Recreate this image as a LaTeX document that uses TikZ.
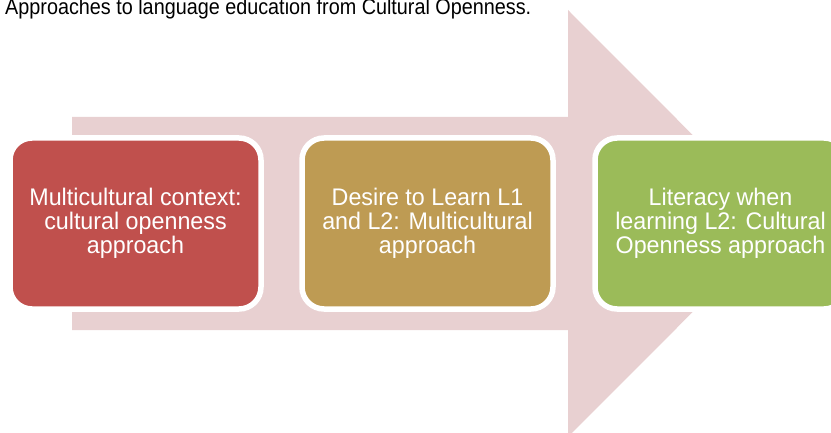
\documentclass[tikz,border=0pt]{standalone}
\usepackage{fontspec}
\setmainfont{Liberation Sans}
\newfontfamily\titlefont[FakeStretch=0.9]{Liberation Sans}
\newfontfamily\boxfont[FakeStretch=0.97]{Liberation Sans}
\usetikzlibrary{positioning}

\definecolor{arrowpink}{HTML}{E8D0D1}
\definecolor{redbox}{HTML}{C0504D}
\definecolor{goldbox}{HTML}{BE9B53}
\definecolor{greenbox}{HTML}{9BBB59}

\tikzset{
    stagebox/.style={
        draw=white, line width=5.5pt, rounded corners=22pt,
        minimum width=251pt, minimum height=171pt, outer sep=0pt,
        text=white, align=center, inner sep=0pt,
        font=\boxfont\fontsize{24}{24}\selectfont
    }
}

\begin{document}
\begin{tikzpicture}[x=1pt, y=1pt]
\useasboundingbox (0,0) rectangle (831,432);
\clip (0,0) rectangle (831,432);

% title line, partly cut at the top
\node[anchor=base west, inner sep=0pt, font=\titlefont\fontsize{22}{24}\selectfont]
    (title) at (5,417) {Approaches to language education from Cultural Openness.};

% the big arrow behind the boxes
\fill[arrowpink] (72,102) -- (72,315) -- (568,315) -- (568,422)
    -- (781,208.5) -- (568,-5) -- (568,102) -- cycle;

% three stages
\node[stagebox, fill=redbox, anchor=west] (context) at (10,208.5)
    {Multicultural context:\\cultural openness\\approach};
\node[stagebox, fill=goldbox, right=41pt of context] (desire)
    {Desire to Learn L1\\and L2: Multicultural\\approach};
\node[stagebox, fill=greenbox, right=42pt of desire] (literacy)
    {Literacy when\\learning L2: Cultural\\Openness approach};

\end{tikzpicture}
\end{document}
